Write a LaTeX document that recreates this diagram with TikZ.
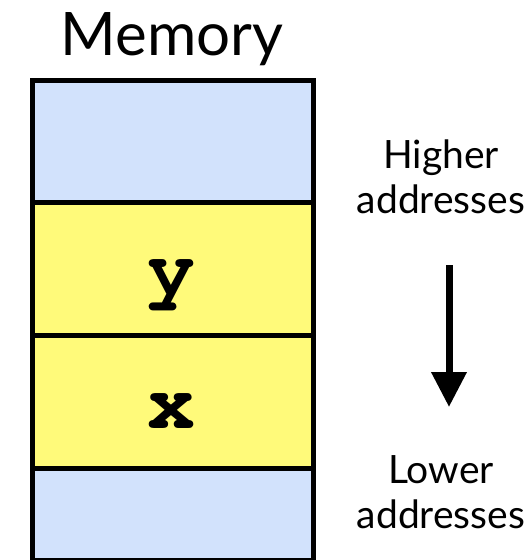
\documentclass[tikz,border=0pt]{standalone}
\usepackage[T1]{fontenc}
\usepackage{fontspec}
\setmainfont{Lato}
\usetikzlibrary{arrows.meta}
\definecolor{cellblue}{RGB}{210,226,252}
\definecolor{cellyellow}{RGB}{255,250,122}
\newcommand{\courierbold}{\fontencoding{T1}\fontfamily{pcr}\fontseries{b}\selectfont}
\tikzset{
  cell/.style={draw=black, line width=5pt, minimum width=281.5pt,
    minimum height=#1, inner sep=0pt, anchor=north west},
  free/.style={cell=#1, fill=cellblue},
  used/.style={cell=#1, fill=cellyellow},
  varname/.style={anchor=base, inner sep=0pt, font=\fontsize{80}{80}\courierbold},
  caption/.style={anchor=base, inner sep=0pt, font=\fontsize{60}{60}\selectfont},
  sidenote/.style={anchor=base, inner sep=0pt, align=center, font=\fontsize{39}{45}\selectfont},
}
\begin{document}
\begin{tikzpicture}[x=1pt, y=-1pt]
  \useasboundingbox (0,0) rectangle (528,560);
  % memory column, from high addresses (top) to low addresses (bottom)
  \node[free=122pt] (top)    at (29.5,77.5)  {};
  \node[used=133pt] (celly)  at (29.5,199.5) {};
  \node[used=133pt] (cellx)  at (29.5,332.5) {};
  \node[free=92pt]  (bottom) at (29.5,465.5) {};
  \node[varname] (namey) at (171,294) {y};
  \node[varname] (namex) at (171,428) {x};
  \node[caption] (title) at (172,55) {Memory};
  % direction of decreasing addresses
  \node[sidenote] (high) at (441,213) {Higher\\addresses};
  \node[sidenote] (low)  at (441,528) {Lower\\addresses};
  \coordinate (arrowstart) at (449,265);
  \coordinate (arrowend)   at (449,407);
  \draw[line width=7pt, -{Triangle[width=34pt, length=35pt]}] (arrowstart) -- (arrowend);
\end{tikzpicture}
\end{document}
